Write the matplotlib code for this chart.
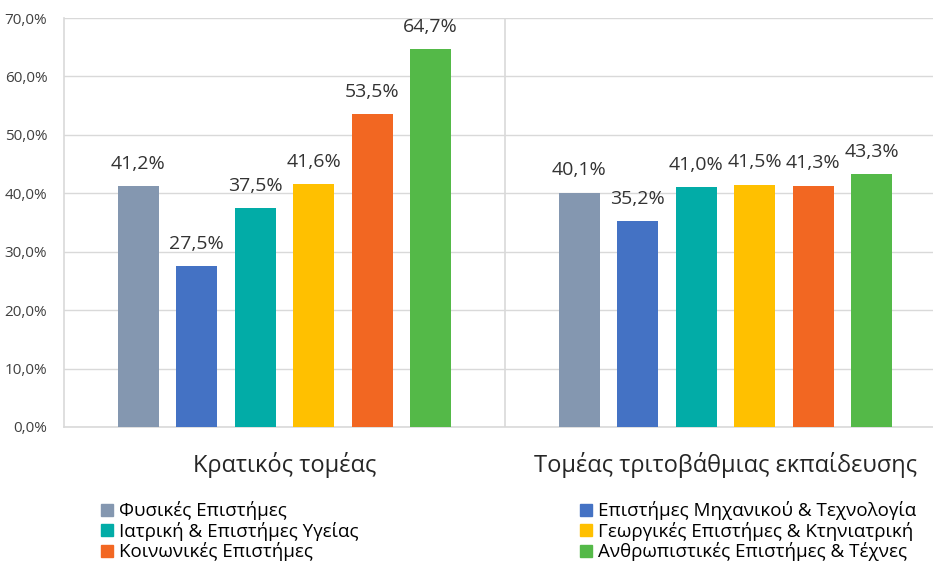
import numpy as np
import matplotlib.pyplot as plt
from matplotlib.patches import Patch

plt.rcParams['font.family'] = ['Open Sans', 'DejaVu Sans']

groups = ["Κρατικός τομέας", "Τομέας τριτοβάθμιας εκπαίδευσης"]
fields = ["Φυσικές Επιστήμες", "Επιστήμες Μηχανικού & Τεχνολογία",
          "Ιατρική & Επιστήμες Υγείας", "Γεωργικές Επιστήμες & Κτηνιατρική",
          "Κοινωνικές Επιστήμες", "Ανθρωπιστικές Επιστήμες & Τέχνες"]
public_sector = [41.2, 27.5, 37.5, 41.6, 53.5, 64.7]
higher_edu = [40.1, 35.2, 41.0, 41.5, 41.3, 43.3]
colors = ["#8497B0", "#4472C4", "#02ACA7", "#FFC000", "#F26722", "#54B948"]

values = np.array([public_sector, higher_edu])

fig = plt.figure(figsize=(9.33, 5.67), dpi=100)
ax = fig.add_axes([64 / 933, 1 - 427 / 567, 1 - 64 / 933, 409 / 567])

step = 0.1325
width = 0.093
for i, field in enumerate(fields):
    x = np.arange(2) + 0.5 + (i - 2.5) * step
    bars = ax.bar(x, values[:, i], width, color=colors[i], label=field, zorder=3)
    for b, v in zip(bars, values[:, i]):
        ax.annotate(f"{v:.1f}%".replace(".", ","),
                    (b.get_x() + b.get_width() / 2, v),
                    xytext=(0, 16), textcoords="offset points",
                    ha="center", va="center", fontsize=14, color="#333333")

ax.set_ylim(0, 70)
ax.set_xlim(0, (933 - 64) / 441)
ax.set_yticks(np.arange(0, 71, 10))
ax.set_yticklabels([f"{t:.1f}%".replace(".", ",") for t in np.arange(0, 71, 10)],
                   fontsize=11, color="#404040")
ax.yaxis.grid(True, color="#D9D9D9", linewidth=1, zorder=0)
ax.axvline(1, color="#D9D9D9", linewidth=1.2, zorder=1)
ax.set_xticks([0.5, 1.5])
ax.set_xticklabels(groups, fontsize=17, color="#262626")
ax.tick_params(axis="x", length=0, pad=18)
ax.tick_params(axis="y", length=0, pad=12)
for s in ["top", "right"]:
    ax.spines[s].set_visible(False)
ax.spines["left"].set_color("#D9D9D9")
ax.spines["bottom"].set_color("#D9D9D9")
ax.spines["left"].set_linewidth(1.2)
ax.spines["bottom"].set_linewidth(1.2)

handles = [Patch(color=c, label=f) for c, f in zip(colors, fields)]
leg_kw = dict(frameon=False, fontsize=13.5, handlelength=0.6, handleheight=0.6,
              handletextpad=0.35, labelspacing=0.08, borderpad=0, loc="upper left")
fig.legend(handles=handles[0::2], bbox_to_anchor=(92 / 933, 1 - 492 / 567), **leg_kw)
fig.legend(handles=handles[1::2], bbox_to_anchor=(571 / 933, 1 - 492 / 567), **leg_kw)

fig.savefig("out.png", dpi=100)
